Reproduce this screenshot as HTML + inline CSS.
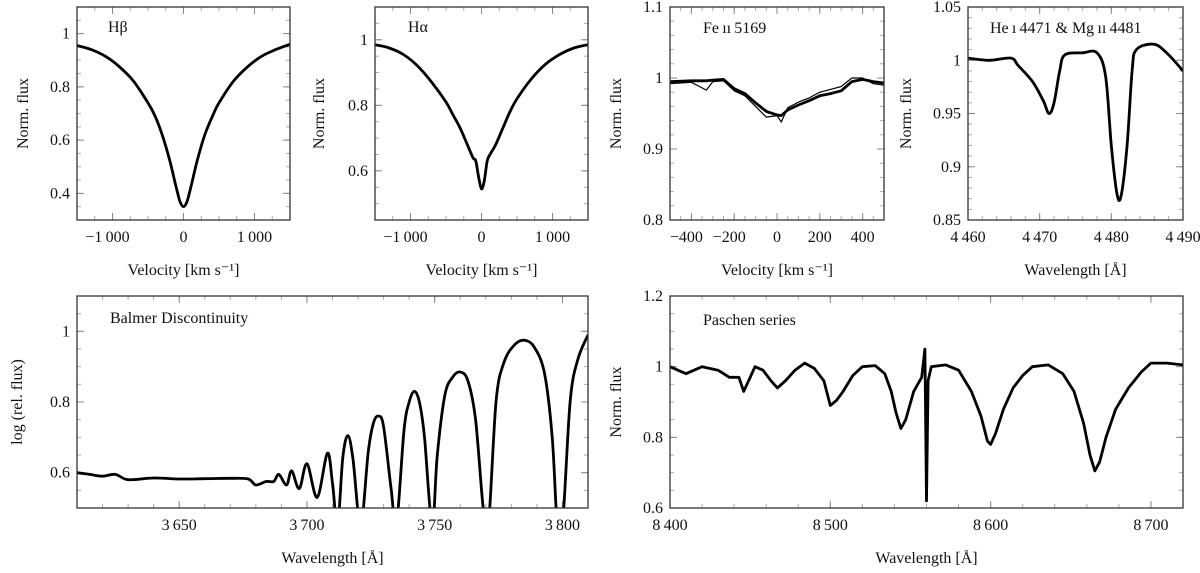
<!DOCTYPE html>
<html><head><meta charset="utf-8">
<style>
html,body{margin:0;padding:0;background:#fff;}
svg{display:block;}
svg text{font-family:"Liberation Serif","DejaVu Serif",serif;}
</style></head>
<body>
<svg id="fig" width="1200" height="573" viewBox="0 0 1200 573" xmlns="http://www.w3.org/2000/svg" font-family="Liberation Serif, serif"></svg>
<script>
// ---- data ----
const hbVel = [-1500,-1300,-1100,-900,-700,-500,-400,-300,-200,-100,-50,0,50,100,200,300,400,500,700,900,1100,1300,1500];
const hbFlux = [0.955,0.94,0.915,0.875,0.82,0.74,0.69,0.62,0.53,0.42,0.37,0.35,0.37,0.42,0.53,0.62,0.685,0.74,0.82,0.875,0.915,0.94,0.96];
const haVel = [-1500,-1300,-1100,-900,-700,-500,-400,-300,-200,-120,-80,-40,0,40,80,120,200,300,400,500,700,900,1100,1300,1500];
const haFlux = [0.985,0.975,0.955,0.92,0.87,0.81,0.77,0.73,0.68,0.64,0.63,0.58,0.545,0.57,0.63,0.65,0.68,0.73,0.78,0.82,0.88,0.925,0.955,0.975,0.985];
const feVel = [-500,-400,-330,-300,-250,-200,-150,-100,-50,0,20,50,100,150,200,250,300,350,400,450,500];
const feFlux = [0.995,0.996,0.996,0.997,0.998,0.985,0.978,0.965,0.953,0.948,0.947,0.955,0.962,0.968,0.975,0.978,0.982,0.995,0.998,0.995,0.993];
const feFlux2 = [0.992,0.994,0.983,0.995,0.996,0.982,0.975,0.96,0.945,0.947,0.938,0.958,0.966,0.972,0.98,0.984,0.988,1.0,1.0,0.992,0.99];
const heWave = [4460,4463,4466,4467,4469,4470.5,4471.3,4472,4472.8,4473.5,4476,4478,4479.2,4480,4480.8,4481.4,4482.2,4482.9,4483.5,4486,4488,4490];
const heFlux = [1.002,1.0,1.002,0.995,0.98,0.962,0.95,0.96,0.99,1.005,1.007,1.007,0.985,0.92,0.874,0.874,0.92,0.99,1.01,1.015,1.005,0.99];
const baWave = [3610,3615,3620,3625,3630,3640,3650,3660,3670,3677,3680,3684,3687,3689,3692,3694,3697,3700,3704,3708,3710,3712,3714,3716,3718,3721,3724,3726,3728,3730,3733,3735,3738,3740,3742,3744,3746,3749,3751,3754,3757,3760,3763,3766,3769,3771,3774,3777,3781,3785,3789,3793,3796,3798,3800,3803,3806,3810];
const baFlux = [0.6,0.595,0.59,0.595,0.58,0.585,0.582,0.583,0.584,0.582,0.565,0.575,0.575,0.595,0.565,0.605,0.555,0.625,0.53,0.655,0.57,0.45,0.64,0.705,0.64,0.45,0.66,0.74,0.76,0.73,0.55,0.45,0.72,0.8,0.83,0.8,0.7,0.45,0.65,0.82,0.87,0.885,0.86,0.75,0.5,0.45,0.8,0.91,0.96,0.975,0.955,0.88,0.7,0.45,0.45,0.8,0.92,0.99];
const paWave = [8400,8410,8420,8430,8437,8443,8446,8450,8453,8458,8463,8467,8472,8478,8484,8490,8496,8500,8504,8508,8514,8520,8528,8534,8538,8541,8544,8547,8552,8557,8559,8560,8561,8563,8572,8580,8588,8594,8598,8600,8603,8608,8614,8620,8626,8636,8645,8652,8658,8662,8665,8668,8672,8678,8686,8694,8700,8710,8720];
const paFlux = [1.0,0.98,1.0,0.99,0.97,0.97,0.93,0.97,1.0,0.99,0.96,0.94,0.96,0.99,1.01,0.995,0.96,0.89,0.905,0.93,0.975,1.0,1.003,0.98,0.93,0.87,0.825,0.85,0.93,0.97,1.05,0.62,0.96,1.0,1.005,0.99,0.93,0.86,0.79,0.78,0.81,0.88,0.94,0.975,1.0,1.005,0.98,0.93,0.84,0.75,0.705,0.73,0.8,0.88,0.94,0.985,1.01,1.01,1.005];

const svg = document.getElementById('fig');
const NS = 'http://www.w3.org/2000/svg';
const FONT = '"Liberation Serif", "DejaVu Serif", serif';
function mk(tag, attrs, parent){ const e=document.createElementNS(NS,tag); for(const k in attrs) e.setAttribute(k,attrs[k]); (parent||svg).appendChild(e); return e; }
function fmt(v){ const neg=v<0; let a=Math.abs(v).toString(); if(Number.isInteger(Math.abs(v)) && Math.abs(v)>=1000){ a=a.slice(0,a.length-3)+'\u2009'+a.slice(a.length-3);} return (neg?'\u2212':'')+a; }
function smoothPath(pts){
  let d='M'+pts[0][0].toFixed(1)+','+pts[0][1].toFixed(1);
  for(let i=0;i<pts.length-1;i++){
    const p0=pts[Math.max(0,i-1)], p1=pts[i], p2=pts[i+1], p3=pts[Math.min(pts.length-1,i+2)];
    const c1=[p1[0]+(p2[0]-p0[0])/6, p1[1]+(p2[1]-p0[1])/6];
    const c2=[p2[0]-(p3[0]-p1[0])/6, p2[1]-(p3[1]-p1[1])/6];
    d+='C'+c1[0].toFixed(1)+','+c1[1].toFixed(1)+' '+c2[0].toFixed(1)+','+c2[1].toFixed(1)+' '+p2[0].toFixed(1)+','+p2[1].toFixed(1);
  }
  return d;
}

const panels = [
 {id:'hbeta', L:77,R:290,T:7,B:220, x0:-1500,x1:1500, y0:0.3,y1:1.1, xt:[-1000,0,1000], xm:250, yt:[0.4,0.6,0.8,1], ym:0.05, ylab:'Norm. flux', ylx:28, xlab:'Velocity [km s\u207B\u00B9]', title:'H\u03B2', tx:108, ty:32, smooth:true, xs:[[hbVel,hbFlux]]},
 {id:'halpha', L:375,R:588,T:7,B:220, x0:-1500,x1:1500, y0:0.45,y1:1.1, xt:[-1000,0,1000], xm:250, yt:[0.6,0.8,1], ym:0.05, ylab:'Norm. flux', ylx:324, xlab:'Velocity [km s\u207B\u00B9]', title:'H\u03B1', tx:408, ty:32, smooth:true, xs:[[haVel,haFlux]]},
 {id:'fe5169', L:670,R:884,T:7,B:220, x0:-500,x1:500, y0:0.8,y1:1.1, xt:[-400,-200,0,200,400], xm:50, yt:[0.8,0.9,1,1.1], ym:0.02, ylab:'Norm. flux', ylx:621, xlab:'Velocity [km s\u207B\u00B9]', title:'Fe\u2009\u0131\u0131\u20095169', tx:703, ty:33, smooth:false, xs:[[feVel,feFlux],[feVel,feFlux2]]},
 {id:'he-mg', L:968,R:1183,T:7,B:220, x0:4460,x1:4490, y0:0.85,y1:1.05, xt:[4460,4470,4480,4490], xm:2, yt:[0.85,0.9,0.95,1,1.05], ym:0.01, ylab:'Norm. flux', ylx:911, xlab:'Wavelength [\u00C5]', title:'He\u2009\u0131\u20094471 & Mg\u2009\u0131\u0131\u20094481', tx:990, ty:33, smooth:true, xs:[[heWave,heFlux]]},
 {id:'balmer', L:77,R:588,T:296,B:508, x0:3610,x1:3810, y0:0.5,y1:1.1, xt:[3650,3700,3750,3800], xm:10, yt:[0.6,0.8,1], ym:0.05, ylab:'log (rel. flux)', ylx:22, xlab:'Wavelength [\u00C5]', title:'Balmer Discontinuity', tx:110, ty:323, smooth:true, xs:[[baWave,baFlux]]},
 {id:'paschen', L:670,R:1183,T:296,B:508, x0:8400,x1:8720, y0:0.6,y1:1.2, xt:[8400,8500,8600,8700], xm:20, yt:[0.6,0.8,1,1.2], ym:0.05, ylab:'Norm. flux', ylx:621, xlab:'Wavelength [\u00C5]', title:'Paschen series', tx:703, ty:325, smooth:false, xs:[[paWave,paFlux]]}
];

panels.forEach(p=>{
  const g = mk('g',{});
  
  
  const sx = v => p.L + (v-p.x0)/(p.x1-p.x0)*(p.R-p.L);
  const sy = v => p.B - (v-p.y0)/(p.y1-p.y0)*(p.B-p.T);
  const clipId = 'clip-'+p.id;
  const cp = mk('clipPath',{id:clipId},g); mk('rect',{x:p.L,y:p.T,width:p.R-p.L,height:p.B-p.T},cp);
  const eps=1e-9;
  for(let i=0;;i++){ const v=Math.ceil(p.x0/p.xm-eps)*p.xm+i*p.xm; if(v>p.x1+eps) break; const x=sx(v);
    mk('line',{x1:x,x2:x,y1:p.B,y2:p.B-4,stroke:'#aaa','stroke-width':1},g); mk('line',{x1:x,x2:x,y1:p.T,y2:p.T+4,stroke:'#aaa','stroke-width':1},g);}
  for(let i=0;;i++){ const v=Math.ceil(p.y0/p.ym-eps)*p.ym+i*p.ym; if(v>p.y1+eps) break; const y=sy(v);
    mk('line',{x1:p.L,x2:p.L+4,y1:y,y2:y,stroke:'#aaa','stroke-width':1},g); mk('line',{x1:p.R,x2:p.R-4,y1:y,y2:y,stroke:'#aaa','stroke-width':1},g);}
  p.xt.forEach(v=>{ const x=sx(v);
    mk('line',{x1:x,x2:x,y1:p.B,y2:p.B-7,stroke:'#888','stroke-width':1},g); mk('line',{x1:x,x2:x,y1:p.T,y2:p.T+7,stroke:'#888','stroke-width':1},g);
    const t=mk('text',{x:x-(v<0?5:0),y:p.B+22,'text-anchor':'middle','font-size':16,fill:'#111','font-family':FONT},g); t.textContent=fmt(v);
    
    
  });
  p.yt.forEach(v=>{ const y=sy(v);
    mk('line',{x1:p.L,x2:p.L+7,y1:y,y2:y,stroke:'#888','stroke-width':1},g); mk('line',{x1:p.R,x2:p.R-7,y1:y,y2:y,stroke:'#888','stroke-width':1},g);
    const t=mk('text',{x:p.L-7,y:y+5,'text-anchor':'end','font-size':16,fill:'#111','font-family':FONT},g); t.textContent=String(v);
    
    
  });
  p.xs.forEach((s,k)=>{
    const pts = s[0].map((xv,i)=>[sx(xv), sy(s[1][i])]);
    const d = p.smooth ? smoothPath(pts) : pts.map((q,i)=>(i?'L':'M')+q[0].toFixed(1)+','+q[1].toFixed(1)).join('');
    const path = mk('path',{d:d,fill:'none',stroke:'#000','stroke-width':k?1.2:2.8,'stroke-linejoin':'round','clip-path':'url(#'+clipId+')'},g);
    
    
  });
  const fr = mk('rect',{x:p.L,y:p.T,width:p.R-p.L,height:p.B-p.T,fill:'none',stroke:'#333','stroke-width':1.3},g);
  
  
  const tt = mk('text',{x:p.tx,y:p.ty,'font-size':16,fill:'#111','font-family':FONT},g); tt.textContent=p.title;
  
  
  const xl = mk('text',{x:(p.L+p.R)/2,y:p.B+55,'text-anchor':'middle','font-size':16,fill:'#111','font-family':FONT},g); xl.textContent=p.xlab;
  
  
  const cy=(p.T+p.B)/2;
  const yl = mk('text',{x:p.ylx,y:cy,'text-anchor':'middle','font-size':16,fill:'#111','font-family':FONT,transform:'rotate(-90 '+p.ylx+' '+cy+')'},g); yl.textContent=p.ylab;
  
  
});
</script>
</body></html>
